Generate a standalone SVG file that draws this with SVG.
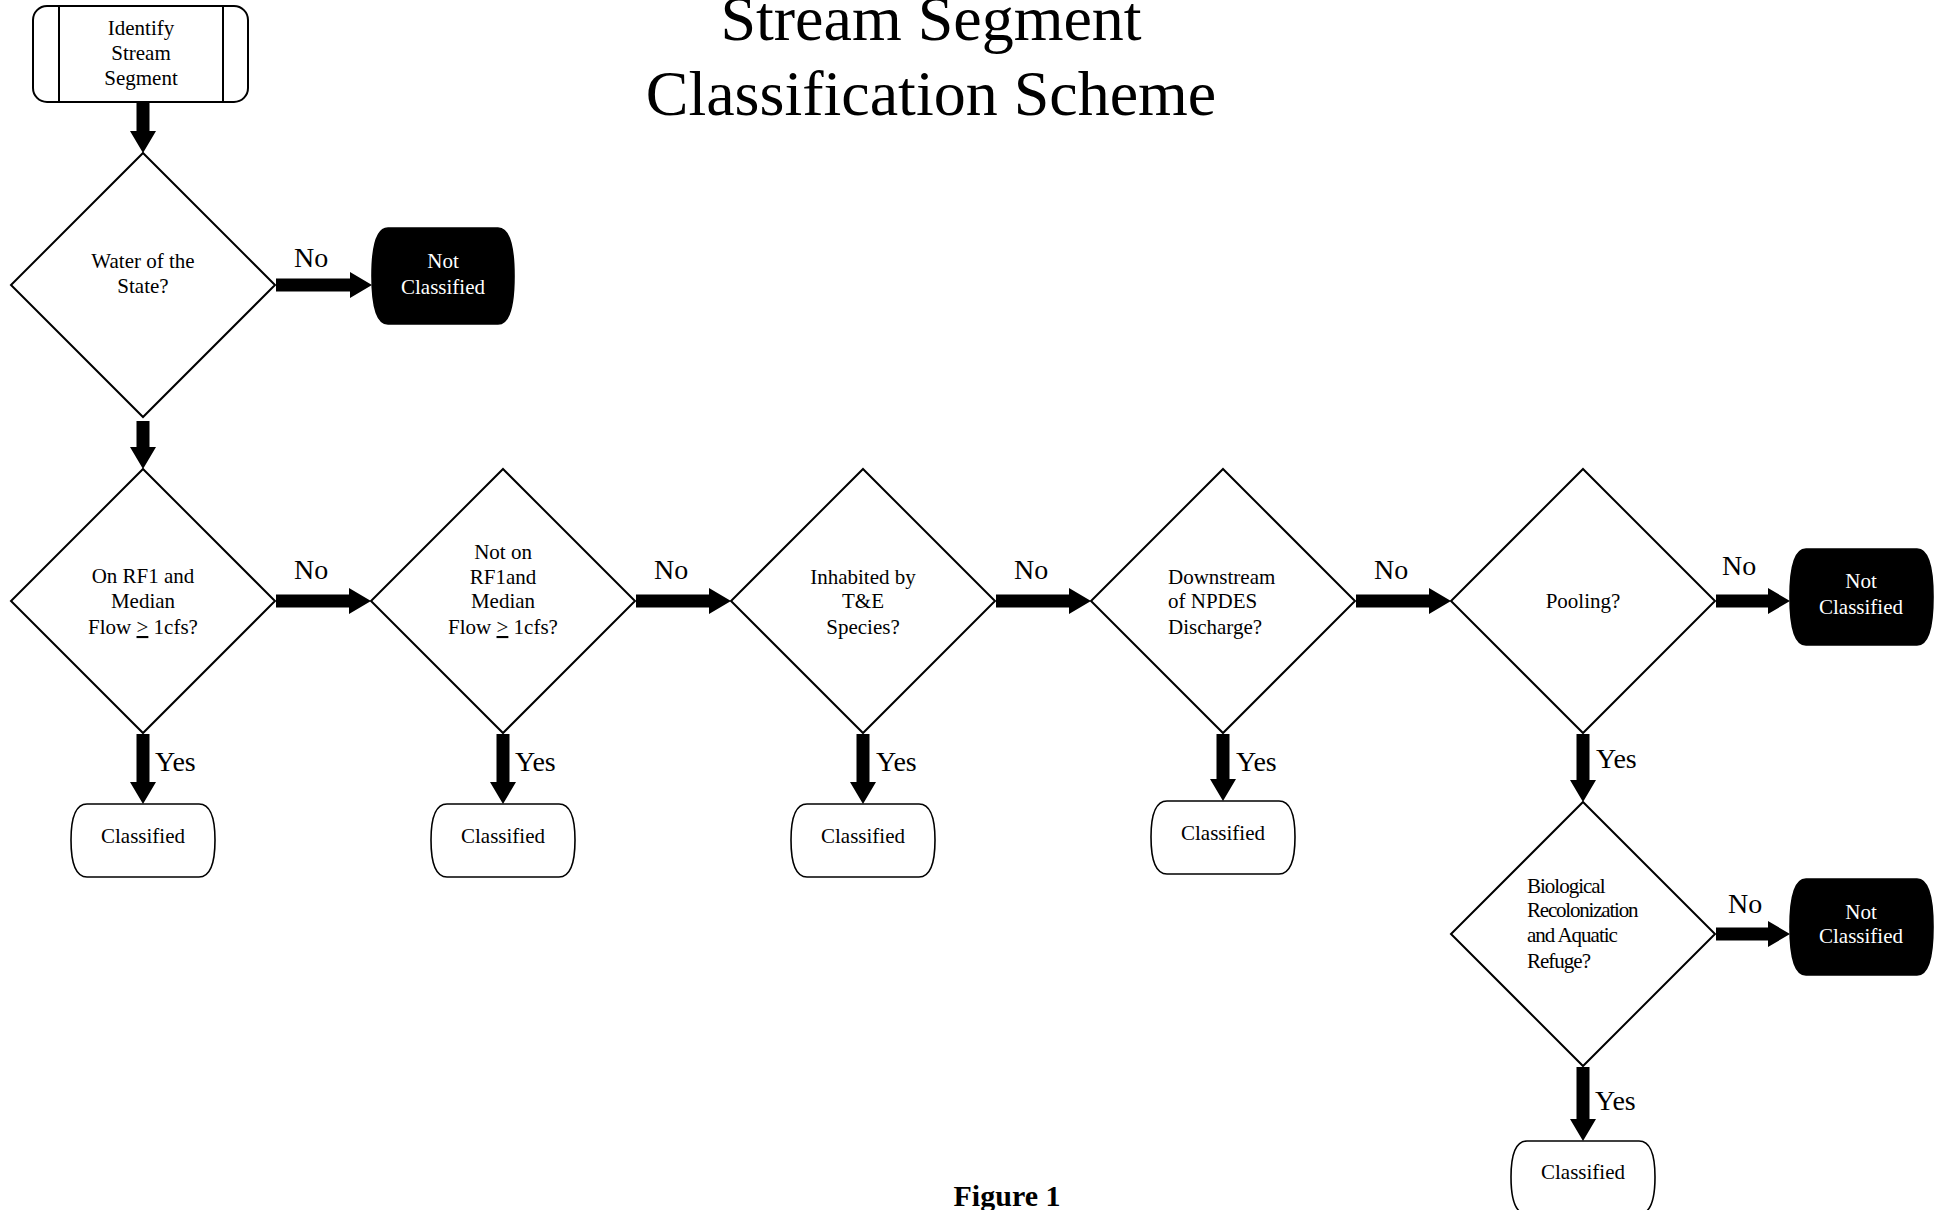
<svg xmlns="http://www.w3.org/2000/svg" width="1942" height="1210" viewBox="0 0 1942 1210">
<style>
text{font-family:"Liberation Serif","Times New Roman",serif;fill:#000}
.t{font-size:21px;text-anchor:middle}
.tl{font-size:21px;text-anchor:start}
.w{fill:#fff}
.lab{font-size:28px}
.title{font-size:64px;text-anchor:middle}
.dia{fill:#fff;stroke:#000;stroke-width:2}
.term{fill:#fff;stroke:#000;stroke-width:1.6}
.nc{fill:#000;stroke:#000;stroke-width:1.6}
.arr{fill:#000}
</style>
<rect width="1942" height="1210" fill="#fff"/>
<g id="title">
<text class="title" x="931" y="40">Stream Segment</text>
<text class="title" x="931" y="115">Classification Scheme</text>
</g>
<g id="start">
<rect x="33" y="6" width="215" height="96" rx="14" fill="#fff" stroke="#000" stroke-width="2"/>
<line x1="59" y1="6" x2="59" y2="102" stroke="#000" stroke-width="2"/>
<line x1="223" y1="6" x2="223" y2="102" stroke="#000" stroke-width="2"/>
<text class="t" x="141" y="35">Identify</text>
<text class="t" x="141" y="60">Stream</text>
<text class="t" x="141" y="85">Segment</text>
</g>
<g id="d1">
<path class="dia" d="M143,153 L275,285 L143,417 L11,285 Z"/>
<text class="t" x="143" y="268">Water of the</text>
<text class="t" x="143" y="293">State?</text>
</g>
<g id="nc1">
<path class="nc" d="M388,228 H498 C510,228 514,249 514,276 C514,303 510,324 498,324 H388 C376,324 372,303 372,276 C372,249 376,228 388,228 Z"/>
<text class="t w" x="443" y="268">Not</text>
<text class="t w" x="443" y="294">Classified</text>
</g>
<g id="d2">
<path class="dia" d="M143,469 L275,601 L143,733 L11,601 Z"/>
<text class="t" x="143" y="583">On RF1 and</text>
<text class="t" x="143" y="608">Median</text>
<text class="t" x="143" y="634">Flow <tspan text-decoration="underline">&gt;</tspan> 1cfs?</text>
</g>
<g id="d3">
<path class="dia" d="M503,469 L635,601 L503,733 L371,601 Z"/>
<text class="t" x="503" y="559">Not on</text>
<text class="t" x="503" y="584">RF1and</text>
<text class="t" x="503" y="608">Median</text>
<text class="t" x="503" y="634">Flow <tspan text-decoration="underline">&gt;</tspan> 1cfs?</text>
</g>
<g id="d4">
<path class="dia" d="M863,469 L995,601 L863,733 L731,601 Z"/>
<text class="t" x="863" y="584">Inhabited by</text>
<text class="t" x="863" y="608">T&amp;E</text>
<text class="t" x="863" y="634">Species?</text>
</g>
<g id="d5">
<path class="dia" d="M1223,469 L1355,601 L1223,733 L1091,601 Z"/>
<text class="tl" x="1168" y="584">Downstream</text>
<text class="tl" x="1168" y="608">of NPDES</text>
<text class="tl" x="1168" y="634">Discharge?</text>
</g>
<g id="d6">
<path class="dia" d="M1583,469 L1715,601 L1583,733 L1451,601 Z"/>
<text class="t" x="1583" y="608">Pooling?</text>
</g>
<g id="nc2">
<path class="nc" d="M1806,549 H1917 C1929,549 1933,570 1933,597 C1933,624 1929,645 1917,645 H1806 C1794,645 1790,624 1790,597 C1790,570 1794,549 1806,549 Z"/>
<text class="t w" x="1861" y="588">Not</text>
<text class="t w" x="1861" y="614">Classified</text>
</g>
<g id="d7">
<path class="dia" d="M1583,802 L1715,934 L1583,1066 L1451,934 Z"/>
<text class="tl" x="1527" y="893" letter-spacing="-1">Biological</text>
<text class="tl" x="1527" y="917" letter-spacing="-1.2">Recolonization</text>
<text class="tl" x="1527" y="942" letter-spacing="-1">and Aquatic</text>
<text class="tl" x="1527" y="968" letter-spacing="-1">Refuge?</text>
</g>
<g id="nc3">
<path class="nc" d="M1806,879 H1917 C1929,879 1933,900 1933,927 C1933,954 1929,975 1917,975 H1806 C1794,975 1790,954 1790,927 C1790,900 1794,879 1806,879 Z"/>
<text class="t w" x="1861" y="919">Not</text>
<text class="t w" x="1861" y="943">Classified</text>
</g>
<g id="c2">
<path class="term" d="M87,804 H199 C211,804 215,820 215,840 C215,860 211,877 199,877 H87 C75,877 71,860 71,840 C71,820 75,804 87,804 Z"/>
<text class="t" x="143" y="843">Classified</text>
</g>
<g id="c3">
<path class="term" d="M447,804 H559 C571,804 575,820 575,840 C575,860 571,877 559,877 H447 C435,877 431,860 431,840 C431,820 435,804 447,804 Z"/>
<text class="t" x="503" y="843">Classified</text>
</g>
<g id="c4">
<path class="term" d="M807,804 H919 C931,804 935,820 935,840 C935,860 931,877 919,877 H807 C795,877 791,860 791,840 C791,820 795,804 807,804 Z"/>
<text class="t" x="863" y="843">Classified</text>
</g>
<g id="c5">
<path class="term" d="M1167,801 H1279 C1291,801 1295,817 1295,837 C1295,857 1291,874 1279,874 H1167 C1155,874 1151,857 1151,837 C1151,817 1155,801 1167,801 Z"/>
<text class="t" x="1223" y="840">Classified</text>
</g>
<g id="c7">
<path class="term" d="M1527,1141 H1639 C1651,1141 1655,1157 1655,1177 C1655,1197 1651,1214 1639,1214 H1527 C1515,1214 1511,1197 1511,1177 C1511,1157 1515,1141 1527,1141 Z"/>
<text class="t" x="1583" y="1179">Classified</text>
</g>
<g id="connectors">
<path class="arr" d="M136.5,102 V131 H130 L143,153 L156,131 H149.5 V102 Z"/>
<path class="arr" d="M276,278.5 H350 V272 L372,285 L350,298 V291.5 H276 Z"/>
<path class="arr" d="M136.5,421 V447 H130 L143,469 L156,447 H149.5 V421 Z"/>
<path class="arr" d="M276,594.5 H349 V588 L371,601 L349,614 V607.5 H276 Z"/>
<path class="arr" d="M636,594.5 H709 V588 L731,601 L709,614 V607.5 H636 Z"/>
<path class="arr" d="M996,594.5 H1069 V588 L1091,601 L1069,614 V607.5 H996 Z"/>
<path class="arr" d="M1356,594.5 H1429 V588 L1451,601 L1429,614 V607.5 H1356 Z"/>
<path class="arr" d="M1716,594.5 H1768 V588 L1790,601 L1768,614 V607.5 H1716 Z"/>
<path class="arr" d="M136.5,734 V782 H130 L143,804 L156,782 H149.5 V734 Z"/>
<path class="arr" d="M496.5,734 V782 H490 L503,804 L516,782 H509.5 V734 Z"/>
<path class="arr" d="M856.5,734 V782 H850 L863,804 L876,782 H869.5 V734 Z"/>
<path class="arr" d="M1216.5,734 V779 H1210 L1223,801 L1236,779 H1229.5 V734 Z"/>
<path class="arr" d="M1576.5,734 V780 H1570 L1583,802 L1596,780 H1589.5 V734 Z"/>
<path class="arr" d="M1716,927.5 H1768 V921 L1790,934 L1768,947 V940.5 H1716 Z"/>
<path class="arr" d="M1576.5,1067 V1119 H1570 L1583,1141 L1596,1119 H1589.5 V1067 Z"/>
<text class="lab" x="294" y="267">No</text>
<text class="lab" x="294" y="579">No</text>
<text class="lab" x="654" y="579">No</text>
<text class="lab" x="1014" y="579">No</text>
<text class="lab" x="1374" y="579">No</text>
<text class="lab" x="1722" y="575">No</text>
<text class="lab" x="1728" y="913">No</text>
<text class="lab" x="155" y="771">Yes</text>
<text class="lab" x="515" y="771">Yes</text>
<text class="lab" x="876" y="771">Yes</text>
<text class="lab" x="1236" y="771">Yes</text>
<text class="lab" x="1596" y="768">Yes</text>
<text class="lab" x="1595" y="1110">Yes</text>
</g>
<g id="caption">
<text x="1007" y="1206" text-anchor="middle" font-weight="bold" font-size="30">Figure 1</text>
</g>
</svg>
